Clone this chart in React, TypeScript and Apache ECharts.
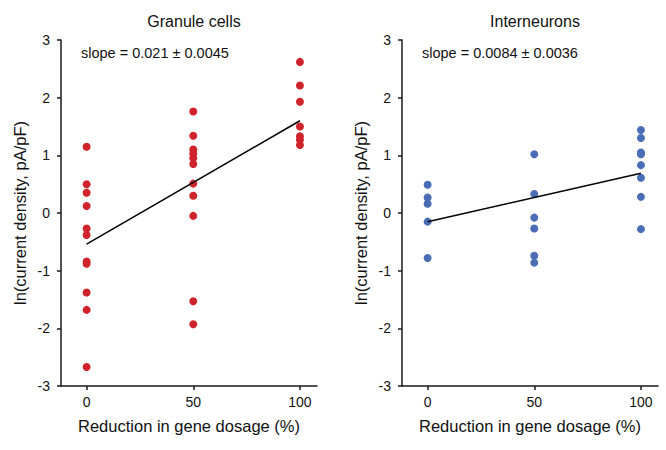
import React, { useEffect, useRef } from "react";
import * as echarts from "echarts";

const dosageLevels = [0, 50, 100];
const panelTitles = ["Granule cells", "Interneurons"];
const slopeTexts = ["slope = 0.021 ± 0.0045", "slope = 0.0084 ± 0.0036"];
const xTickValues = [0, 50, 100];
const xAxisName = "Reduction in gene dosage (%)";
const yAxisName = "ln(current density, pA/pF)";

const granule0 = [1.15, 0.5, 0.35, 0.12, -0.27, -0.38, -0.84, -0.88, -1.38, -1.68, -2.67];
const granule50 = [1.76, 1.34, 1.1, 1.03, 0.95, 0.85, 0.51, 0.3, -0.05, -1.53, -1.93];
const granule100 = [2.62, 2.21, 1.93, 1.5, 1.33, 1.27, 1.18];
const granuleFit = [-0.54, 1.6];

const inter0 = [0.49, 0.27, 0.16, -0.15, -0.78];
const inter50 = [1.02, 0.33, -0.08, -0.27, -0.74, -0.86];
const inter100 = [1.44, 1.3, 1.05, 1.02, 0.83, 0.61, 0.28, -0.28];
const interFit = [-0.15, 0.69];

const FONT = "'Liberation Sans', Arial, sans-serif";
const RED = "#cf242c";
const BLUE = "#4a6db5";
const AXIS = "#1a1a1a";

function toPoints(groups: number[][]) {
  const pts: number[][] = [];
  groups.forEach((vals, i) => vals.forEach((v) => pts.push([dosageLevels[i], v])));
  return pts;
}

function fitPoints(fit: number[]) {
  return [
    [dosageLevels[0], fit[0]],
    [dosageLevels[2], fit[1]],
  ];
}

export default function App() {
  const ref = useRef<HTMLDivElement>(null);
  useEffect(() => {
    if (!ref.current) return;
    const chart = echarts.init(ref.current, null, { renderer: "svg" });
    const grids = [
      { left: 61, top: 40, width: 256, height: 346 },
      { left: 402, top: 40, width: 256, height: 346 },
    ];
    const mkX = (gi: number) => ({
      type: "value",
      gridIndex: gi,
      min: -12,
      max: 108,
      name: xAxisName,
      nameLocation: "middle",
      nameGap: 31,
      nameTextStyle: { fontFamily: FONT, fontSize: 16.5, color: "#111" },
      axisLine: { show: true, onZero: false, lineStyle: { color: AXIS, width: 1.5 } },
      axisTick: { show: true, length: 4, customValues: xTickValues, lineStyle: { color: AXIS, width: 1.5 } },
      axisLabel: { customValues: xTickValues, margin: 9, fontFamily: FONT, fontSize: 14, color: "#111" },
      splitLine: { show: false },
    });
    const mkY = (gi: number) => ({
      type: "value",
      gridIndex: gi,
      min: -3,
      max: 3,
      interval: 1,
      name: yAxisName,
      nameLocation: "middle",
      nameGap: 33,
      nameRotate: 90,
      nameTextStyle: { fontFamily: FONT, fontSize: 16.5, color: "#111" },
      axisLine: { show: true, onZero: false, lineStyle: { color: AXIS, width: 1.5 } },
      axisTick: { show: true, length: 4, lineStyle: { color: AXIS, width: 1.5 } },
      axisLabel: { margin: 11, fontFamily: FONT, fontSize: 14, color: "#111" },
      splitLine: { show: false },
    });
    const scatter = (gi: number, data: number[][], color: string) => ({
      type: "scatter",
      xAxisIndex: gi,
      yAxisIndex: gi,
      data,
      symbolSize: 8,
      itemStyle: { color, opacity: 1 },
      z: 2,
    });
    const fitLine = (gi: number, data: number[][]) => ({
      type: "line",
      xAxisIndex: gi,
      yAxisIndex: gi,
      data,
      symbol: "none",
      lineStyle: { color: "#000", width: 1.5 },
      z: 3,
    });
    chart.setOption({
      animation: false,
      title: [
        {
          text: panelTitles[0],
          left: 189,
          top: 8,
          textAlign: "center",
          textStyle: { fontFamily: FONT, fontSize: 16, fontWeight: "normal", color: "#111" },
        },
        {
          text: panelTitles[1],
          left: 530,
          top: 8,
          textAlign: "center",
          textStyle: { fontFamily: FONT, fontSize: 16, fontWeight: "normal", color: "#111" },
        },
      ],
      grid: grids,
      xAxis: [mkX(0), mkX(1)],
      yAxis: [mkY(0), mkY(1)],
      graphic: [
        {
          type: "text",
          left: 81,
          top: 45,
          style: { text: slopeTexts[0], fontFamily: FONT, fontSize: 14.5, fill: "#111" },
        },
        {
          type: "text",
          left: 422,
          top: 45,
          style: { text: slopeTexts[1], fontFamily: FONT, fontSize: 14.5, fill: "#111" },
        },
      ],
      series: [
        scatter(0, toPoints([granule0, granule50, granule100]), RED),
        fitLine(0, fitPoints(granuleFit)),
        scatter(1, toPoints([inter0, inter50, inter100]), BLUE),
        fitLine(1, fitPoints(interFit)),
      ],
    });
    return () => chart.dispose();
  }, []);
  return (
    <div
      ref={ref}
      style={{ position: "fixed", left: 0, top: 0, width: 666, height: 450, background: "#fff" }}
    />
  );
}
